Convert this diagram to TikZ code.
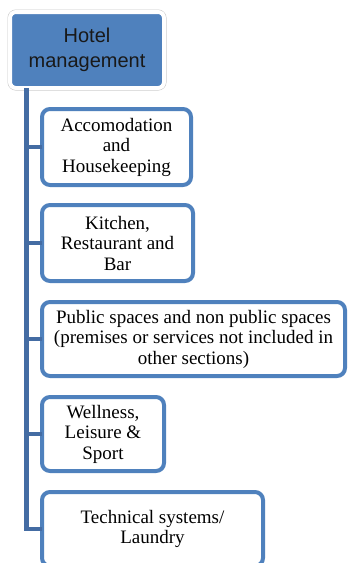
\documentclass[tikz,border=0pt]{standalone}
\usepackage{fontspec}
\setmainfont{Liberation Serif}
\newfontfamily\headfont{Liberation Sans}
\usetikzlibrary{positioning}

\definecolor{boxblue}{RGB}{79,129,189}
\definecolor{trunkblue}{RGB}{68,108,163}
\definecolor{headtext}{RGB}{25,25,25}

\begin{document}
\begin{tikzpicture}[x=1pt, y=1pt, node distance=21pt]
		\tikzstyle{head} = [rectangle, rounded corners=6pt, fill=boxblue, draw=white, line width=4pt,
			preaction={draw=black!22, line width=5pt}, minimum width=154pt, minimum height=76pt,
			inner sep=0pt, outer sep=0pt, text=headtext, align=center,
			font=\headfont\fontsize{20}{25}\selectfont]
		\tikzstyle{item} = [rectangle, rounded corners=8pt, fill=white, draw=boxblue, line width=4pt,
			minimum height=74pt, inner sep=2pt, outer sep=0pt, align=center, text=black,
			font=\fontsize{19}{20.5}\selectfont]
		\tikzstyle{link} = [draw=trunkblue, line width=4.5pt]

		\useasboundingbox (0,0) rectangle (348,-563);
		\clip (0,0) rectangle (348,-563);

		\node[head, anchor=north west] (hotel) at (10,-12) {Hotel\\management};
		\coordinate (stem) at (26.5,-88);

		\node[item, anchor=north west, minimum width=149pt, minimum height=76pt] (accom) at (42,-109)
			{Accomodation\\and\\Housekeeping};
		\node[item, below=20pt of accom.south west, anchor=north west, minimum width=151pt, minimum height=76pt] (kitchen)
			{Kitchen,\\Restaurant and\\Bar};
		\node[item, below=of kitchen.south west, anchor=north west, minimum width=303pt] (spaces)
			{Public spaces and non public spaces\\(premises or services not included in\\other sections)};
		\node[item, below=of spaces.south west, anchor=north west, minimum width=122pt] (wellness)
			{Wellness,\\Leisure \&\\Sport};
		\node[item, below=of wellness.south west, anchor=north west, minimum width=221pt] (tech)
			{Technical systems/\\Laundry};

		% trunk and branches
		\draw[link] (stem) |- (tech.west);
		\foreach \n in {accom, kitchen, spaces, wellness}
			\draw[link] (stem |- \n.west) -- (\n.west);
	\end{tikzpicture}
\end{document}
